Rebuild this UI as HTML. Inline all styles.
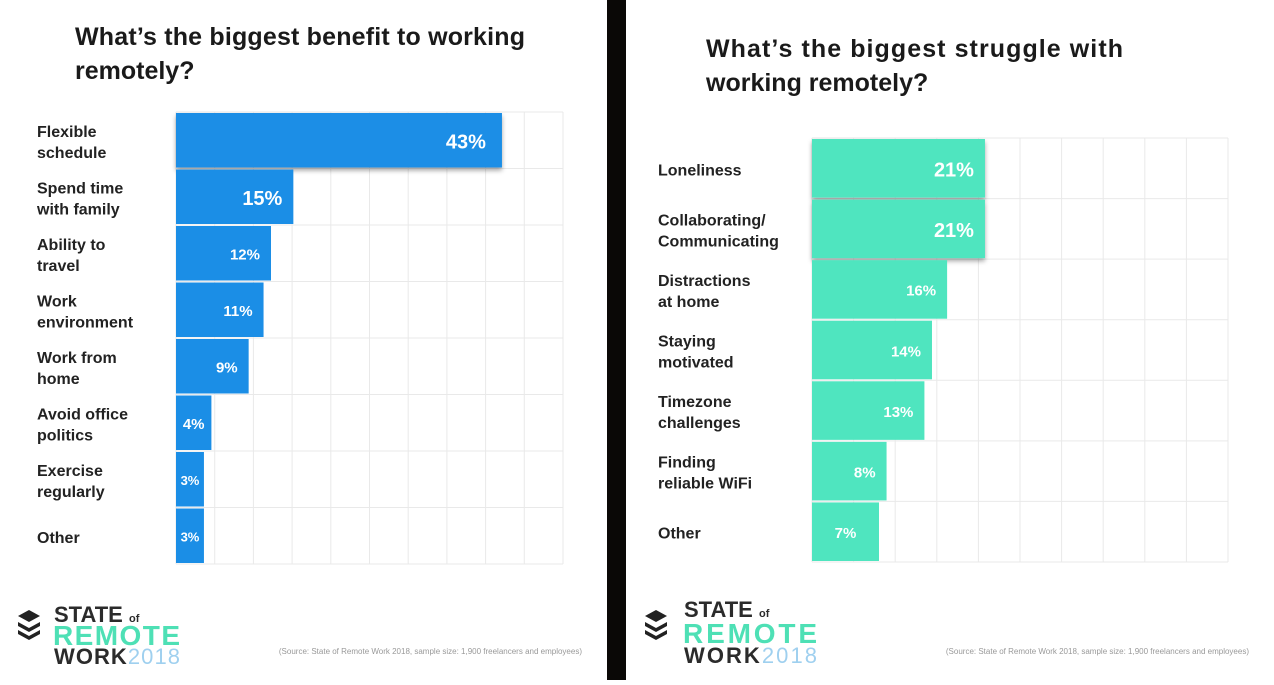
<!DOCTYPE html>
<html><head><meta charset="utf-8"><style>
html,body{margin:0;padding:0;background:#fff;}
body{width:1274px;height:680px;overflow:hidden;font-family:"Liberation Sans",sans-serif;}
svg text{font-family:"Liberation Sans",sans-serif;}
</style></head><body>
<svg id="root" width="1274" height="680" viewBox="0 0 1274 680" xmlns="http://www.w3.org/2000/svg">
<defs>
<filter id="sh" x="-5%" y="-20%" width="110%" height="150%"><feDropShadow dx="0" dy="3" stdDeviation="2.5" flood-color="#000" flood-opacity="0.35"/></filter>
</defs>
<rect x="0" y="0" width="607" height="680" fill="#fff"/>
<rect x="607" y="0" width="19" height="680" fill="#0a0806"/>
<rect x="626" y="0" width="648" height="680" fill="#fff"/>
<text font-size="25" font-weight="bold" fill="#1a1a1a"><tspan x="75" y="45" textLength="450">What’s the biggest benefit to working</tspan><tspan x="75" y="79">remotely?</tspan></text>
<text font-size="25" font-weight="bold" fill="#1a1a1a"><tspan x="706" y="57" textLength="417">What’s the biggest struggle with</tspan><tspan x="706" y="91">working remotely?</tspan></text>
<g id="left"></g>
<g id="right"></g>
<g transform="translate(18,602)">
 <path d="M0 14 L11 8 L22 14 L11 20 Z" fill="#222"/><path d="M0 20 L11 26 L22 20 L22 24 L11 30 L0 24 Z" fill="#222"/><path d="M0 28 L11 34 L22 28 L22 32 L11 38 L0 32 Z" fill="#222"/>
 <text x="36" y="20" font-size="22" font-weight="bold" fill="#2b2b2b">STATE <tspan font-size="11">of</tspan></text>
 <text x="35" y="43" font-size="28" font-weight="bold" fill="#4ee0b5" textLength="127">REMOTE</text>
 <text x="36" y="62" font-size="22" font-weight="bold" fill="#2b2b2b" textLength="126">WORK<tspan fill="#9fd0ef" font-weight="normal">2018</tspan></text>
</g>
<g transform="translate(645,602)">
 <path d="M0 14 L11 8 L22 14 L11 20 Z" fill="#222"/><path d="M0 20 L11 26 L22 20 L22 24 L11 30 L0 24 Z" fill="#222"/><path d="M0 28 L11 34 L22 28 L22 32 L11 38 L0 32 Z" fill="#222"/>
 <text x="39" y="15" font-size="22" font-weight="bold" fill="#2b2b2b">STATE <tspan font-size="11">of</tspan></text>
 <text x="38" y="41" font-size="28" font-weight="bold" fill="#4ee0b5" textLength="134">REMOTE</text>
 <text x="39" y="61" font-size="22" font-weight="bold" fill="#2b2b2b" textLength="133">WORK<tspan fill="#9fd0ef" font-weight="normal">2018</tspan></text>
</g>
<text x="582" y="654" text-anchor="end" font-size="8" fill="#999">(Source: State of Remote Work 2018, sample size: 1,900 freelancers and employees)</text>
<text x="1249" y="654" text-anchor="end" font-size="8" fill="#999">(Source: State of Remote Work 2018, sample size: 1,900 freelancers and employees)</text>
</svg>
<script>
const leftCategories = [["Flexible","schedule"],["Spend time","with family"],["Ability to","travel"],["Work","environment"],["Work from","home"],["Avoid office","politics"],["Exercise","regularly"],["Other"]];
const leftValues = [43,15,12,11,9,4,3,3];
const rightCategories = [["Loneliness"],["Collaborating/","Communicating"],["Distractions","at home"],["Staying","motivated"],["Timezone","challenges"],["Finding","reliable WiFi"],["Other"]];
const rightValues = [21,21,16,14,13,8,7];
const NS = "http://www.w3.org/2000/svg";
function mk(tag, attrs, parent){const e=document.createElementNS(NS,tag);for(const k in attrs)e.setAttribute(k,attrs[k]);parent.appendChild(e);return e;}
function draw(g, cats, vals, cfg){
  const n = cats.length, rowH = (cfg.y1-cfg.y0)/n;
  const xs = v => cfg.x0 + cfg.off + v*cfg.ppu;
  for(let i=0;i<=10;i++){
    const x = cfg.x0 + i*(cfg.x1-cfg.x0)/10;
    const l = mk('line',{x1:x,x2:x,y1:cfg.y0,y2:cfg.y1,stroke:'#e9e9e9','stroke-width':1},g);
    
    
  }
  for(let i=0;i<=n;i++){
    const y = cfg.y0 + i*rowH;
    const l = mk('line',{x1:cfg.x0,x2:cfg.x1,y1:y,y2:y,stroke:'#e9e9e9','stroke-width':1},g);
    
    
  }
  const maxV = Math.max(...vals);
  vals.forEach((v,i)=>{
    const y = cfg.y0 + i*rowH + 1;
    const w = xs(v)-cfg.x0;
    const attrs = {x:cfg.x0,y:y,width:w,height:rowH-2,fill:cfg.color};
    if(v===maxV) attrs.filter='url(#sh)';
    const r = mk('rect',attrs,g);
    
    
    const fs = v>=cfg.bigMin ? 20 : (v>=4 ? 15 : 13);
    const cy = y + rowH/2 + fs*0.35;
    let tx, anchor;
    if(w > 72){ tx = xs(v) - (v===maxV && cfg.bigPad ? 16 : 11); anchor='end'; }
    else { tx = cfg.x0 + w/2; anchor='middle'; }
    const t = mk('text',{x:tx,y:cy,'text-anchor':anchor,'font-size':fs,'font-weight':'bold',fill:'#fff'},g);
    t.textContent = v+'%';
    
    
    const lines = cats[i];
    const lh = 21;
    const startY = y + rowH/2 - (lines.length-1)*lh/2 + 6;
    const lab = mk('text',{'font-size':16,'font-weight':'bold',fill:'#222'},g);
    
    
    lines.forEach((s,j)=>{const ts=mk('tspan',{x:cfg.lx,y:startY+j*lh},lab);ts.textContent=s;});
  });
}
draw(document.getElementById('left'), leftCategories, leftValues, {x0:176,x1:563,y0:112,y1:564,off:5.6,ppu:7.45,bigMin:15,color:'#1b8ee6',lx:37,bigPad:true});
draw(document.getElementById('right'), rightCategories, rightValues, {x0:812,x1:1228,y0:138,y1:562,off:14,ppu:7.57,bigMin:20,color:'#4fe5bf',lx:658,bigPad:false});
</script>
</body></html>
